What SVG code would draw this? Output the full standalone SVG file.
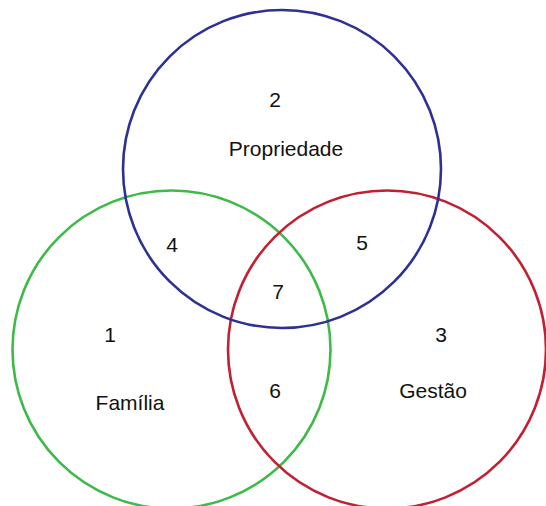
<svg xmlns="http://www.w3.org/2000/svg" width="546" height="506" viewBox="0 0 546 506">
  <style>
    .set { fill: none; stroke-width: 2.6; }
    .lbl { font-family: "Liberation Sans", Arial, sans-serif; font-size: 21px; fill: #111; text-anchor: middle; }
  </style>
  <rect width="546" height="506" fill="#fff"/>
  <g id="familia">
    <circle class="set" cx="171.5" cy="349.5" r="159" stroke="#3DBA48"/>
    <text class="lbl" x="110" y="342">1</text>
    <text class="lbl" x="130" y="410">Família</text>
  </g>
  <g id="gestao">
    <circle class="set" cx="387" cy="349.5" r="159" stroke="#C21F32"/>
    <text class="lbl" x="441" y="342">3</text>
    <text class="lbl" x="433" y="398">Gestão</text>
  </g>
  <g id="propriedade">
    <circle class="set" cx="282" cy="169" r="159" stroke="#2E3192"/>
    <text class="lbl" x="275" y="107">2</text>
    <text class="lbl" x="286" y="156">Propriedade</text>
  </g>
  <g id="intersections">
    <text class="lbl" x="172" y="252">4</text>
    <text class="lbl" x="362" y="250">5</text>
    <text class="lbl" x="275" y="398">6</text>
    <text class="lbl" x="278" y="299">7</text>
  </g>
</svg>
